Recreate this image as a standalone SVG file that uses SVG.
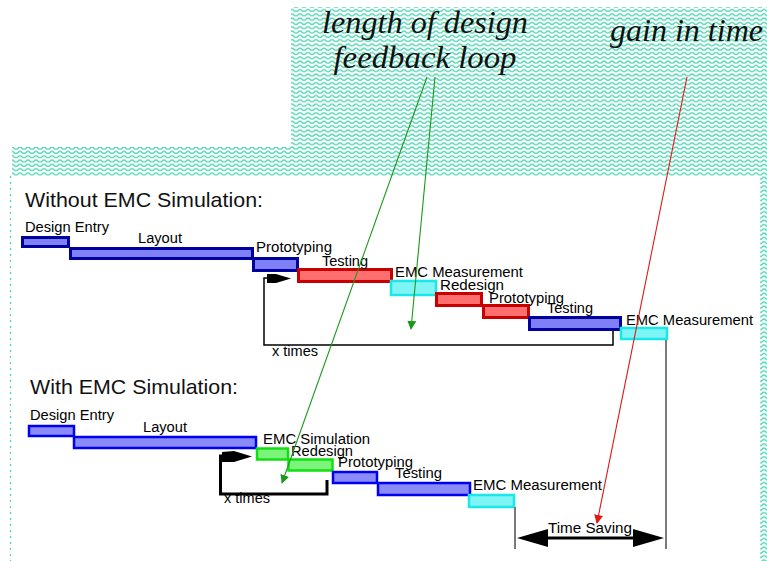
<svg xmlns="http://www.w3.org/2000/svg" width="767" height="561" viewBox="0 0 767 561">
  <style>
    .lbl { font-family: "Liberation Sans", Arial, sans-serif; font-size: 14px; fill: #000; }
    .head { font-family: "Liberation Sans", Arial, sans-serif; font-size: 21px; fill: #111; }
    .note { font-family: "Liberation Serif", "Times New Roman", serif; font-style: italic; font-size: 31px; fill: #111; }
    .blue1 { fill: #7f7ff6; stroke: #00009c; stroke-width: 3; }
    .blue2 { fill: #8a8af8; stroke: #0000f0; stroke-width: 2.5; }
    .red { fill: #ff6f6f; stroke: #c80000; stroke-width: 3; }
    .cyan { fill: #7ff4f4; stroke: #18e8e8; stroke-width: 2.5; }
    .green { fill: #7cf47c; stroke: #10e010; stroke-width: 2.5; }
    .loop1 { fill: none; stroke: #000; stroke-width: 1.5; }
    .loop2 { fill: none; stroke: #000; stroke-width: 3; }
    .gray { stroke: #7a7a7a; stroke-width: 2; fill: none; }
  </style>
  <defs>
    <pattern id="zig" width="8" height="4.3" patternUnits="userSpaceOnUse">
      <rect width="8" height="4.3" fill="#ffffff"/>
      <path d="M0,3 C2,3 2,1 4,1 C6,1 6,3 8,3" fill="none" stroke="#5cd8b8" stroke-width="1.5"/>
    </pattern>
    <marker id="arrGreen" viewBox="0 0 10 10" refX="9" refY="5" markerWidth="9" markerHeight="9" markerUnits="userSpaceOnUse" orient="auto">
      <path d="M0,0 L10,5 L0,10 z" fill="#1a9a1a"/>
    </marker>
    <marker id="arrRed" viewBox="0 0 10 10" refX="9" refY="5" markerWidth="9" markerHeight="9" markerUnits="userSpaceOnUse" orient="auto">
      <path d="M0,0 L10,5 L0,10 z" fill="#e01818"/>
    </marker>
  </defs>

  <!-- backdrop: textured frame with white working area -->
  <rect width="767" height="561" fill="#ffffff"/>
  <path d="M291,7 H767 V561 H760 V176 H12 V147 H291 Z" fill="url(#zig)"/>
  <line x1="291" y1="105" x2="760" y2="105" stroke="#ffffff" stroke-width="1" stroke-dasharray="1.5,3.5" opacity="0.8"/>
  <line x1="10.5" y1="176" x2="10.5" y2="561" stroke="#3fd8b8" stroke-width="1.2" stroke-dasharray="2,4"/>

  <!-- callout texts -->
  <g id="note-loop">
    <text class="note" x="425" y="33" text-anchor="middle" textLength="206" lengthAdjust="spacingAndGlyphs">length of design</text>
    <text class="note" x="425" y="68" text-anchor="middle" textLength="183" lengthAdjust="spacingAndGlyphs">feedback loop</text>
  </g>
  <g id="note-gain">
    <text class="note" x="686.5" y="41" text-anchor="middle" textLength="153" lengthAdjust="spacingAndGlyphs">gain in time</text>
  </g>

  <!-- flow without simulation -->
  <text id="head-without" class="head" x="25" y="207" textLength="238" lengthAdjust="spacingAndGlyphs">Without EMC Simulation:</text>

  <g id="a-design-entry">
    <rect class="blue1" x="22.5" y="237.5" width="46" height="9"/>
    <text class="lbl" x="25" y="232" textLength="84" lengthAdjust="spacingAndGlyphs">Design Entry</text>
  </g>
  <g id="a-layout">
    <rect class="blue1" x="70.5" y="248.5" width="182" height="10"/>
    <text class="lbl" x="138" y="243" textLength="44" lengthAdjust="spacingAndGlyphs">Layout</text>
  </g>
  <g id="a-prototyping">
    <rect class="blue1" x="253.5" y="258.5" width="44" height="12"/>
    <text class="lbl" x="256" y="252" textLength="76" lengthAdjust="spacingAndGlyphs">Prototyping</text>
  </g>
  <g id="a-testing">
    <rect class="red" x="298.5" y="269.5" width="93" height="12"/>
    <text class="lbl" x="322" y="266" textLength="46" lengthAdjust="spacingAndGlyphs">Testing</text>
  </g>
  <g id="a-emc-measurement">
    <rect class="cyan" x="391" y="281" width="45" height="14"/>
    <text class="lbl" x="395" y="277" textLength="128" lengthAdjust="spacingAndGlyphs">EMC Measurement</text>
  </g>
  <g id="a-redesign">
    <rect class="red" x="436.5" y="293.5" width="45" height="12"/>
    <text class="lbl" x="440" y="290" textLength="64" lengthAdjust="spacingAndGlyphs">Redesign</text>
  </g>
  <g id="a-prototyping-2">
    <rect class="red" x="483.5" y="305.5" width="45" height="12"/>
    <text class="lbl" x="489" y="303" textLength="75" lengthAdjust="spacingAndGlyphs">Prototyping</text>
  </g>
  <g id="a-testing-2">
    <rect class="blue1" x="529.5" y="317.5" width="91" height="12"/>
    <text class="lbl" x="547" y="313" textLength="46" lengthAdjust="spacingAndGlyphs">Testing</text>
  </g>
  <g id="a-emc-measurement-2">
    <rect class="cyan" x="621" y="328" width="46" height="11"/>
    <text class="lbl" x="626" y="325" textLength="127" lengthAdjust="spacingAndGlyphs">EMC Measurement</text>
  </g>
  <g id="a-loop-label">
    <text class="lbl" x="272" y="356" textLength="46" lengthAdjust="spacingAndGlyphs">x times</text>
  </g>

  <!-- flow with simulation -->
  <text id="head-with" class="head" x="30" y="394" textLength="208" lengthAdjust="spacingAndGlyphs">With EMC Simulation:</text>

  <g id="b-design-entry">
    <rect class="blue2" x="29" y="426" width="45" height="10"/>
    <text class="lbl" x="30" y="420" textLength="84" lengthAdjust="spacingAndGlyphs">Design Entry</text>
  </g>
  <g id="b-layout">
    <rect class="blue2" x="74" y="437" width="182" height="11"/>
    <text class="lbl" x="143" y="432" textLength="44" lengthAdjust="spacingAndGlyphs">Layout</text>
  </g>
  <g id="b-emc-simulation">
    <rect class="green" x="257" y="448.5" width="31" height="11"/>
    <text class="lbl" x="263" y="444" textLength="107" lengthAdjust="spacingAndGlyphs">EMC Simulation</text>
  </g>
  <g id="b-redesign">
    <rect class="green" x="288.5" y="459.5" width="44" height="11"/>
    <text class="lbl" x="291" y="456" textLength="62" lengthAdjust="spacingAndGlyphs">Redesign</text>
  </g>
  <g id="b-prototyping">
    <rect class="blue2" x="333" y="472" width="44" height="11"/>
    <text class="lbl" x="338" y="467" textLength="75" lengthAdjust="spacingAndGlyphs">Prototyping</text>
  </g>
  <g id="b-testing">
    <rect class="blue2" x="378" y="483" width="92" height="12"/>
    <text class="lbl" x="395" y="478" textLength="47" lengthAdjust="spacingAndGlyphs">Testing</text>
  </g>
  <g id="b-emc-measurement">
    <rect class="cyan" x="469" y="495" width="45" height="12"/>
    <text class="lbl" x="473" y="490" textLength="129" lengthAdjust="spacingAndGlyphs">EMC Measurement</text>
  </g>
  <g id="b-loop-label">
    <text class="lbl" x="224" y="503" textLength="46" lengthAdjust="spacingAndGlyphs">x times</text>
  </g>
  <g id="time-saving">
    <text class="lbl" x="548" y="533" textLength="84" lengthAdjust="spacingAndGlyphs">Time Saving</text>
  </g>

  <!-- connectors -->
  <g id="connectors">
    <!-- redesign loop, first flow -->
    <path class="loop1" d="M613,331 V345 H264 V278 H276"/>
    <polygon points="267,274 276,274 291,278.5 276,283 267,283" fill="#000"/>
    <!-- redesign loop, second flow -->
    <path class="loop2" d="M327,480 V494 H220.5 V456 H234"/>
    <polygon points="222,452 234,451 252,456.5 234,462 222,462" fill="#000"/>

    <!-- time-saving span -->
    <line class="gray" x1="666" y1="340" x2="666" y2="549"/>
    <line class="gray" x1="515" y1="507" x2="515" y2="549"/>
    <line x1="530" y1="538" x2="650" y2="538" stroke="#000" stroke-width="3"/>
    <polygon points="517,538 548,529 548,547" fill="#000"/>
    <polygon points="664,538 633,529 633,547" fill="#000"/>

    <!-- callout pointers -->
    <line x1="427" y1="77" x2="282" y2="483" stroke="#1a9a1a" stroke-width="1.1" marker-end="url(#arrGreen)"/>
    <line x1="435" y1="77" x2="411" y2="329" stroke="#1a9a1a" stroke-width="1.1" marker-end="url(#arrGreen)"/>
    <line x1="687" y1="77" x2="597" y2="523" stroke="#e01818" stroke-width="1.1" marker-end="url(#arrRed)"/>
  </g>
</svg>
